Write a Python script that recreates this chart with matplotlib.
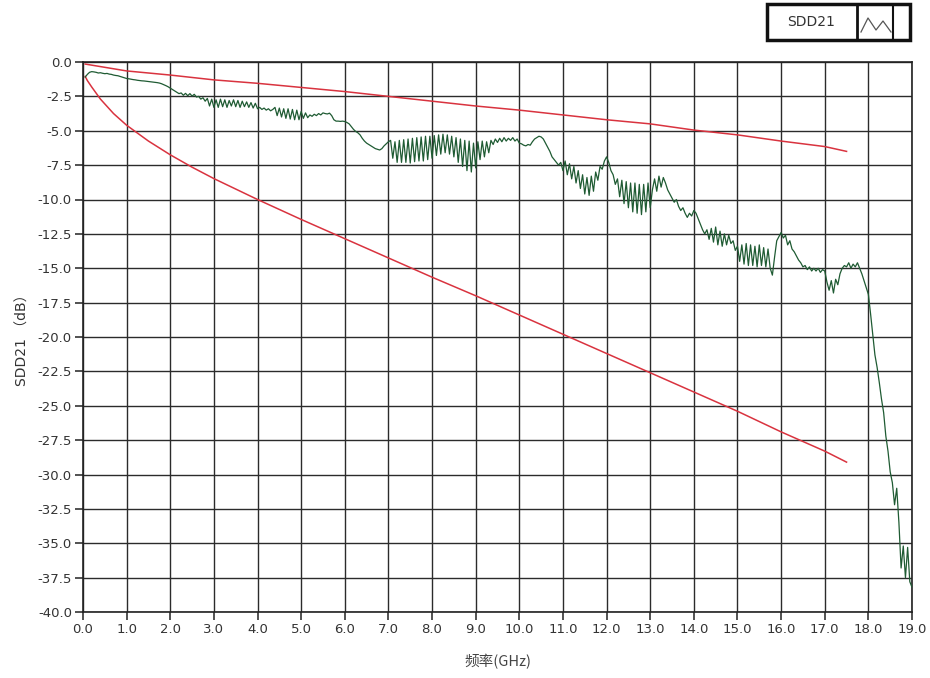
import numpy as np
import matplotlib
matplotlib.use('Agg')
import matplotlib.pyplot as plt
from matplotlib.patches import Rectangle
from matplotlib.lines import Line2D

# SDD21 medido (dB), 20 pontos por GHz, de 0.05 a 19.0 GHz
sdd21_db = [
    -1.1, -0.9, -0.75, -0.7, -0.72, -0.75, -0.8, -0.78, -0.82, -0.85, -0.83, -0.88, -0.9, -0.95, -0.98, -1.0, -1.05, -1.1, -1.15, -1.2,
    -1.22, -1.25, -1.28, -1.3, -1.33, -1.35, -1.37, -1.38, -1.4, -1.42, -1.44, -1.46, -1.48, -1.5, -1.53, -1.58, -1.65, -1.72, -1.8, -1.9,
    -2.0, -2.1, -2.2, -2.3, -2.25, -2.42, -2.28, -2.45, -2.3, -2.48, -2.35, -2.55, -2.5, -2.7, -2.6, -2.85, -2.65, -3.2, -2.7, -3.3,
    -2.75, -3.3, -2.7, -3.25, -2.75, -3.3, -2.8, -3.2, -2.75, -3.25, -2.8, -3.3, -2.85, -3.25, -2.9, -3.3, -2.95, -3.35, -3.0, -3.4,
    -3.3, -3.45, -3.35, -3.5, -3.4, -3.55, -3.45, -3.3, -3.9, -3.35, -4.0, -3.4, -4.1, -3.4, -4.15, -3.45, -4.2, -3.5, -4.2, -3.6,
    -4.1, -3.7, -4.05, -3.85, -3.95, -3.8, -3.9, -3.75, -3.85, -3.7, -3.75, -3.78, -3.72, -3.9, -4.2, -4.3, -4.3, -4.32, -4.3, -4.33,
    -4.4, -4.5, -4.7, -4.9, -5.05, -5.15, -5.3, -5.55, -5.75, -5.9, -6.0, -6.1, -6.2, -6.3, -6.35, -6.4, -6.3, -6.1, -5.95, -5.8,
    -5.7, -7.0, -5.8, -7.3, -5.7, -7.3, -5.65, -7.3, -5.6, -7.35, -5.55, -7.25, -5.5, -7.2, -5.45, -7.2, -5.4, -7.1, -5.4, -7.0,
    -5.35, -6.8, -5.3, -6.7, -5.25, -6.6, -5.3, -6.7, -5.4, -6.9, -5.5, -7.3, -5.6, -7.6, -5.7, -7.9, -5.75, -8.0, -5.9, -7.7,
    -5.8, -7.1, -5.75, -6.9, -5.8, -6.6, -5.7, -6.0, -5.6, -5.85, -5.55, -5.8, -5.5, -5.75, -5.55, -5.7, -5.5, -5.75, -5.6, -5.9,
    -5.95, -6.05, -6.1, -6.0, -6.05, -5.8, -5.6, -5.5, -5.4, -5.45, -5.6, -5.9, -6.2, -6.5, -6.9, -7.1, -7.3, -7.5, -7.3, -7.9,
    -7.2, -8.2, -7.4, -8.5, -7.6, -8.8, -7.9, -9.2, -8.2, -9.6, -8.4, -9.7, -8.3, -9.4, -8.0, -8.6, -7.6, -7.8, -7.2, -6.9,
    -7.3, -7.9, -8.2, -8.9, -8.5, -9.8, -8.6, -10.3, -8.7, -10.6, -8.8, -10.9, -8.8, -11.0, -8.9, -11.1, -8.9, -10.9, -8.8, -10.6,
    -9.3, -8.5, -9.4, -8.3, -9.1, -8.4, -8.8, -9.3, -9.6, -9.9, -10.2, -10.0, -10.5, -10.8, -10.6, -11.0, -11.3, -11.0, -11.2, -10.8,
    -11.0, -11.4, -11.8, -12.2, -12.5, -12.2, -12.9, -12.1, -13.1, -12.0, -13.3, -12.3, -13.4, -12.5, -13.3, -12.6, -13.2, -13.0, -13.7, -13.4,
    -14.5, -13.3, -14.7, -13.2, -14.8, -13.3, -14.8, -13.4, -14.9, -13.3, -14.8, -13.5, -14.9, -13.6, -15.0, -15.5, -14.2, -13.0, -12.7, -12.4,
    -12.8, -12.6, -13.3, -13.0, -13.6, -13.8, -14.1, -14.4, -14.6, -14.9, -14.8, -15.1, -14.9, -15.2, -15.0, -15.2, -15.0, -15.3, -15.1, -15.2,
    -16.0, -16.6, -15.9, -16.8, -15.8, -16.2, -15.4, -15.0, -14.8, -14.9, -14.6, -15.0, -14.7, -14.9, -14.6, -15.0, -15.4, -15.9, -16.4, -16.9,
    -18.3, -19.8, -21.3, -22.2, -23.3, -24.5, -25.5, -27.2, -28.3, -29.8, -30.6, -32.2, -31.0, -33.5, -36.8, -35.2, -37.5, -35.3, -37.8, -38.2,
]
freq_ghz = np.linspace(0.05, 19.0, len(sdd21_db))

# limites (linhas vermelhas)
lim_sup_f = [0.05, 1, 2, 3, 4, 5, 6, 7, 8, 9, 10, 11, 12, 13, 14, 15, 16, 17, 17.5]
lim_sup_db = [-0.15, -0.65, -0.95, -1.3, -1.55, -1.85, -2.15, -2.5, -2.85, -3.2,
              -3.5, -3.85, -4.2, -4.5, -4.95, -5.3, -5.75, -6.15, -6.5]
lim_inf_f = [0.05, 0.1, 0.2, 0.4, 0.7, 1.0, 1.5, 2.0, 2.5, 3.0, 4.0, 5.0, 6.0, 7.0,
             8.0, 9.0, 10, 11, 12, 13, 14, 15, 16, 17, 17.5]
lim_inf_db = [-1.05, -1.35, -1.82, -2.7, -3.75, -4.6, -5.75, -6.75, -7.65, -8.48,
              -10.0, -11.45, -12.85, -14.25, -15.65, -17.0, -18.4, -19.8, -21.2,
              -22.6, -24.0, -25.4, -26.9, -28.3, -29.1]

x_ticks = np.arange(0, 20, 1.0)
y_ticks = np.arange(-40, 0.1, 2.5)

plt.rcParams['font.family'] = ['DejaVu Sans', 'Noto Sans CJK SC']

fig = plt.figure(figsize=(9.3, 6.78), dpi=100)
ax = fig.add_axes([83 / 930, 1 - 612 / 678, 829 / 930, 550 / 678])

ax.plot(lim_sup_f, lim_sup_db, color='#d9333f', lw=1.1, zorder=3)
ax.plot(lim_inf_f, lim_inf_db, color='#d9333f', lw=1.1, zorder=3)
ax.plot(freq_ghz, sdd21_db, color='#1f5b33', lw=0.9, zorder=4)

ax.set_xlim(0, 19)
ax.set_ylim(-40, 0)
ax.set_xticks(x_ticks)
ax.set_xticklabels([f'{v:.1f}' for v in x_ticks])
ax.set_yticks(y_ticks)
ax.set_yticklabels([f'{v:.1f}' for v in y_ticks])
ax.grid(True, color='#2b2b2b', lw=1.0, zorder=1)
ax.tick_params(direction='out', length=6, width=1.2, color='#333333',
               labelsize=9.5, labelcolor='#333333', pad=2)
for s in ax.spines.values():
    s.set_color('#222222')
    s.set_linewidth(1.2)

ax.set_ylabel('SDD21 （dB）', fontsize=10, color='#333333',
              family=['DejaVu Sans', 'Noto Sans CJK SC'], labelpad=6)
ax.set_xlabel('频率(GHz)', fontsize=10.5, color='#444444',
              family=['Noto Sans CJK SC', 'DejaVu Sans'], labelpad=13)

# caixa de legenda no estilo LabVIEW
fig.patches.append(Rectangle((767 / 930, 1 - 40 / 678), 143 / 930, 36 / 678,
                             transform=fig.transFigure, fill=False,
                             edgecolor='#111111', lw=2.5))
fig.lines.append(Line2D([857 / 930, 857 / 930], [1 - 39 / 678, 1 - 6 / 678],
                        transform=fig.transFigure, color='#111111', lw=2))
fig.lines.append(Line2D([893 / 930, 893 / 930], [1 - 39 / 678, 1 - 6 / 678],
                        transform=fig.transFigure, color='#111111', lw=1.5))
icone_x = np.array([861, 868, 876, 883, 891]) / 930
icone_y = 1 - np.array([32, 18, 30, 21, 32]) / 678
fig.lines.append(Line2D(icone_x, icone_y, transform=fig.transFigure,
                        color='#555555', lw=0.9))
fig.text(811 / 930, 1 - 22 / 678, 'SDD21', ha='center', va='center',
         fontsize=10, color='#333333')

fig.savefig('out.png', dpi=100)
